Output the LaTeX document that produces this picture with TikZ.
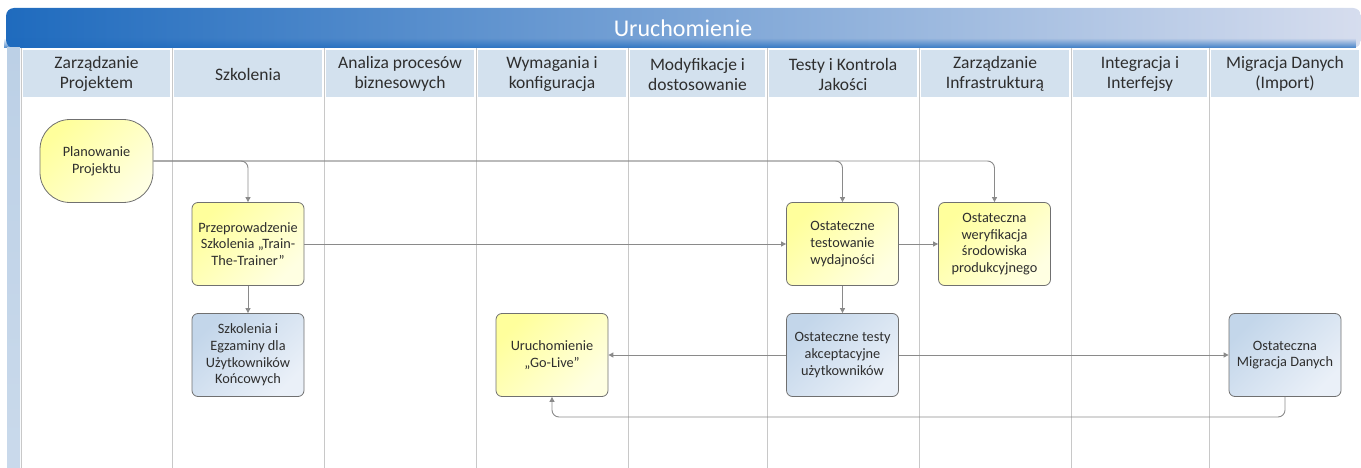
\documentclass[tikz,border=0pt]{standalone}
\usepackage{fontspec}
\setmainfont{Carlito}
\usetikzlibrary{arrows.meta,fadings}
\definecolor{sep}{HTML}{C8C8C8}
\definecolor{hdr}{HTML}{D3E1EE}
\definecolor{bar}{HTML}{BCD0E6}
\definecolor{tl}{HTML}{1F6BBE}
\definecolor{tr}{HTML}{D6DDEE}
\definecolor{yA}{HTML}{FFFF9C}
\definecolor{yB}{HTML}{FFFFE2}
\definecolor{bA}{HTML}{C3D6EA}
\definecolor{bB}{HTML}{EAF0F8}
\definecolor{edge}{HTML}{707070}
\definecolor{conncol}{HTML}{8A8A8A}
\definecolor{txt}{HTML}{2E2E2E}
\tikzset{
  hdrtext/.style={font=\fontsize{17.5}{20}\selectfont, text=txt, align=center},
  box/.style={draw=edge, line width=0.8pt, rounded corners=6pt, minimum width=111pt, minimum height=83pt,
    inner sep=2pt, align=flush center, text width=108pt, text=txt, font=\fontsize{14.3}{16.7}\selectfont},
  ybox/.style={box, top color=yA, bottom color=yB, shading angle=45},
  bbox/.style={box, top color=bA, bottom color=bB, shading angle=45},
  conn/.style={draw=conncol, line width=0.9pt, rounded corners=7pt, -{Triangle[width=5pt,length=5pt]}},
  lane/.style={draw=sep, line width=0.9pt}
}
\begin{document}
\begin{tikzpicture}[x=1pt,y=-1pt]
\useasboundingbox (0,0) rectangle (1361,468);
% title bar
\shade[left color=tl, right color=tr, rounded corners=8pt]
  (6,48) -- (6,8) -- (1361,8) -- (1361,48) -- cycle;
\fill[tl, path fading=north, opacity=0.8] (6,38) rectangle (1361,48);
\node[text=white, font=\fontsize{24}{28}\selectfont] (title) at (683,28) {Uruchomienie};
% left bar
\shade[top color=bar, bottom color=bar!80!white] (7,48) rectangle (20,468);
% header cells
\foreach \a/\b in {21/172,172/324,324/476,476/628,628/767,767/919,919/1071,1071/1209,1209/1361}{
  \fill[hdr] (\a+2,50) rectangle (\b-2,97);
}
% lane separators
\foreach \x in {172,324,476,628,767,919,1071,1209}{
  \draw[lane] (\x,48) -- (\x,468);
}
\draw[lane] (21,48) -- (21,468);
% headers
\node[hdrtext] (h1) at (96.5,74) {Zarządzanie\\Projektem};
\node[hdrtext] (h2) at (248,74) {Szkolenia};
\node[hdrtext] (h3) at (400,74) {Analiza procesów\\biznesowych};
\node[hdrtext] (h4) at (552,74) {Wymagania i\\konfiguracja};
\node[hdrtext] (h5) at (697.5,74) {Modyfikacje i\\dostosowanie};
\node[hdrtext] (h6) at (843,74) {Testy i Kontrola\\Jakości};
\node[hdrtext] (h7) at (995,74) {Zarządzanie\\Infrastrukturą};
\node[hdrtext] (h8) at (1140,74) {Integracja i\\Interfejsy};
\node[hdrtext] (h9) at (1285,74) {Migracja Danych\\(Import)};
% nodes
\node[ybox, rounded corners=30pt, minimum width=113pt] (plan) at (96.5,161) {Planowanie\\Projektu};
\node[ybox] (ttt) at (248,244) {Przeprowadzenie\\Szkolenia „Train-\\The-Trainer”};
\node[bbox] (egz) at (248,355) {Szkolenia i\\Egzaminy dla\\Użytkowników\\Końcowych};
\node[ybox] (golive) at (552,355) {Uruchomienie\\„Go-Live”};
\node[ybox] (perf) at (842.5,244) {Ostateczne\\testowanie\\wydajności};
\node[ybox] (infra) at (994.5,244) {Ostateczna\\weryfikacja\\środowiska\\produkcyjnego};
\node[bbox] (uat) at (842.5,355) {Ostateczne testy\\akceptacyjne\\użytkowników};
\node[bbox] (migr) at (1285,355) {Ostateczna\\Migracja Danych};
\coordinate (low) at (0,417);
% connectors
\draw[conn] (plan.east) -| (ttt.north);
\draw[conn] (plan.east) -| (perf.north);
\draw[conn] (plan.east) -| (infra.north);
\draw[conn] (ttt.east) -- (perf.west);
\draw[conn] (perf.east) -- (infra.west);
\draw[conn] (ttt.south) -- (egz.north);
\draw[conn] (perf.south) -- (uat.north);
\draw[conn] (uat.west) -- (golive.east);
\draw[conn] (uat.east) -- (migr.west);
\draw[conn] (migr.south) -- (migr.south |- low) -| (golive.south);
\end{tikzpicture}
\end{document}
